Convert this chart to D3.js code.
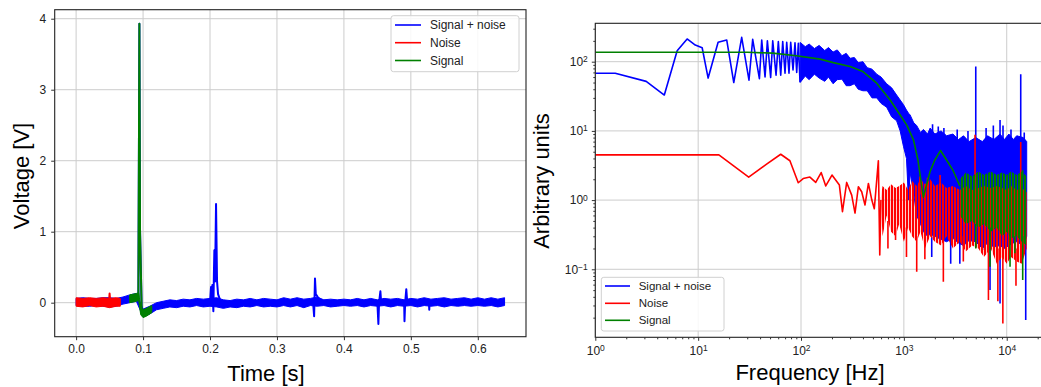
<!DOCTYPE html>
<html>
<head>
<meta charset="utf-8">
<script src="https://cdn.jsdelivr.net/npm/d3@7"></script>
<style>
  body { margin: 0; background: #fff; }
  svg text { font-family: "Liberation Sans", Arial, sans-serif; fill: #222; }
</style>
</head>
<body>
<svg id="chart" width="1041" height="387"></svg>
<script>
// ---- time trace (left) ----
const timeTicks = [0, 0.1, 0.2, 0.3, 0.4, 0.5, 0.6];
const voltTicks = [0, 1, 2, 3, 4];

// signal + noise: noise band envelope
const mixBandT = [0, 0.01, 0.02, 0.03, 0.04, 0.05, 0.06, 0.07, 0.08, 0.09, 0.1, 0.11, 0.12, 0.13, 0.14, 0.15, 0.16, 0.17, 0.18, 0.19,
  0.2, 0.21, 0.22, 0.23, 0.24, 0.25, 0.26, 0.27, 0.28, 0.29, 0.3, 0.31, 0.32, 0.33, 0.34, 0.35, 0.36, 0.37, 0.38, 0.39,
  0.4, 0.41, 0.42, 0.43, 0.44, 0.45, 0.46, 0.47, 0.48, 0.49, 0.5, 0.51, 0.52, 0.53, 0.54, 0.55, 0.56, 0.57, 0.58, 0.59,
  0.6, 0.61, 0.62, 0.63, 0.64];
const mixBandHi = [0.06, 0.07, 0.06, 0.06, 0.07, 0.07, 0.06, 0.08, 0.11, 0.13, -0.09, -0.05, 0.0, 0.02, 0.04, 0.03, 0.05, 0.04, 0.06, 0.05,
  0.06, 0.07, 0.04, 0.03, 0.05, 0.04, 0.06, 0.04, 0.06, 0.05, 0.04, 0.07, 0.05, 0.07, 0.05, 0.06, 0.08, 0.04, 0.05, 0.04,
  0.05, 0.04, 0.06, 0.04, 0.06, 0.04, 0.06, 0.05, 0.06, 0.04, 0.06, 0.05, 0.07, 0.05, 0.06, 0.07, 0.05, 0.06, 0.07, 0.05,
  0.07, 0.05, 0.07, 0.05, 0.07];
const mixBandLo = [-0.04, -0.05, -0.05, -0.04, -0.05, -0.06, -0.05, -0.02, 0.0, 0.02, -0.2, -0.16, -0.1, -0.08, -0.06, -0.07, -0.05, -0.06, -0.04, -0.06,
  -0.05, -0.06, -0.08, -0.06, -0.07, -0.05, -0.06, -0.04, -0.06, -0.05, -0.06, -0.04, -0.06, -0.04, -0.07, -0.04, -0.05, -0.04, -0.06, -0.05,
  -0.04, -0.05, -0.04, -0.06, -0.04, -0.05, -0.04, -0.06, -0.04, -0.05, -0.04, -0.06, -0.04, -0.05, -0.04, -0.06, -0.04, -0.05, -0.04, -0.05,
  -0.04, -0.05, -0.04, -0.06, -0.04];
// signal + noise: centre line with its spikes
const mixLineT = [0, 0.05, 0.08, 0.093, 0.0945, 0.0955, 0.098, 0.1, 0.105, 0.112, 0.12, 0.15, 0.2, 0.2015, 0.2025, 0.2035, 0.205, 0.2058,
  0.2065, 0.2075, 0.209, 0.2105, 0.212, 0.215, 0.22, 0.25, 0.3, 0.354, 0.3555, 0.3568, 0.358, 0.361, 0.365, 0.4, 0.45, 0.4515, 0.4525,
  0.4545, 0.4555, 0.47, 0.49, 0.4905, 0.4915, 0.4932, 0.4945, 0.51, 0.527, 0.5275, 0.528, 0.55, 0.6, 0.64];
const mixLineV = [0.01, 0.01, 0.05, 0.08, 3.93, 1.0, -0.14, -0.17, -0.13, -0.09, -0.05, -0.02, 0.0, 0.22, 0.05, 0.25, -0.12, 0.4,
  0.74, 0.3, 1.39, 0.3, 0.12, 0.04, -0.02, -0.01, 0.0, 0.0, -0.19, 0.34, 0.12, 0.08, 0.03, 0.01, 0.0, -0.3, 0.0,
  0.16, 0.02, 0.01, 0.0, -0.26, 0.0, 0.19, 0.02, 0.01, 0.0, -0.1, 0.0, 0.01, 0.01, 0.01];

// noise segment
const noiseBandT = [0, 0.01, 0.02, 0.03, 0.04, 0.05, 0.06, 0.066];
const noiseBandHi = [0.07, 0.06, 0.07, 0.06, 0.07, 0.06, 0.07, 0.06];
const noiseBandLo = [-0.05, -0.06, -0.04, -0.06, -0.05, -0.07, -0.05, -0.05];
const noiseLineT = [0, 0.049, 0.05, 0.051, 0.066];
const noiseLineV = [0.01, 0.01, 0.13, 0.01, 0.01];

// signal segment
const signalBandT = [0.08, 0.085, 0.09, 0.0935, 0.0965, 0.1, 0.105, 0.113];
const signalBandHi = [0.11, 0.12, 0.13, 0.14, -0.06, -0.1, -0.08, -0.04];
const signalBandLo = [0.0, 0.01, 0.02, 0.03, -0.17, -0.21, -0.19, -0.14];
const signalLineT = [0.08, 0.093, 0.0945, 0.0955, 0.098, 0.1, 0.105, 0.113];
const signalLineV = [0.06, 0.09, 3.93, 1.0, -0.14, -0.17, -0.13, -0.09];

// ---- spectrum (right) ----
const freqTicks = [1, 10, 100, 1000, 10000];
const specTicks = [0.1, 1, 10, 100];

const mixFreqLow = [1, 1.5625, 3.125, 4.6875, 6.25, 7.8125, 9.375, 10.94, 12.5, 15.63, 18.95, 22.2, 26.5, 31.2, 33.9, 39.4, 41.5,
  44.7, 47.1, 50.7, 53.1, 57.2, 60.2, 63.5, 66.4, 69.9, 72.6, 76.4, 79.4, 83.6, 87.4, 90.8, 94.2, 97.8];
const mixSpecLow = [68, 68, 52, 33, 144, 213, 174, 159, 58, 191, 206, 50, 225, 54, 210, 57, 205,
  60, 200, 59, 200, 64, 195, 64, 195, 68, 190, 68, 190, 76, 188, 70, 185, 51];
const mixBandF = [98, 110, 120, 135, 150, 170, 185, 205, 225, 250, 275, 300, 330, 360, 400, 440, 490, 545, 600, 680, 760, 850,
  920, 990, 1060, 1110, 1150, 1250, 1330, 1450, 1550, 1700, 1800, 2000, 2300, 2600, 3000, 3400, 3800, 4300, 5000, 5800, 6500,
  7500, 8600, 9500, 10500, 11600, 12500, 14500, 15640];
const mixSpecHi = [190, 165, 180, 155, 172, 145, 160, 138, 148, 122, 132, 112, 115, 97, 100, 82, 78, 66, 60, 48, 42, 33,
  28, 24, 20, 18, 17, 13, 12, 9.5, 10.5, 9, 11, 9, 10, 8.5, 9, 7.5, 8.5, 7, 8, 7, 8.5,
  7.5, 9, 7.5, 9, 7.5, 8.5, 8, 7];
const mixSpecLo = [50, 62, 55, 66, 58, 52, 60, 48, 55, 56, 45, 45, 48, 40, 38, 38, 30, 30, 25, 22, 16, 14,
  10, 6, 4, 1.0, 2.5, 1.2, 0.6, 0.45, 0.35, 0.3, 0.32, 0.3, 0.27, 0.25, 0.28, 0.24, 0.22, 0.26, 0.25, 0.2, 0.24,
  0.21, 0.22, 0.2, 0.22, 0.24, 0.25, 0.22, 0.3];
const mixSpikeF = [5000, 13680, 7410, 8610, 2160, 1110, 1866, 2852, 3500, 6880, 8610, 15300, 5810,
  1250, 1900, 2450, 3300, 4200, 6300, 9200, 11000, 14800];
const mixSpikeFrom = [7, 7, 7, 7, 8, 5, 0.3, 0.3, 0.3, 0.25, 0.25, 0.3, 0.25,
  10, 8, 8, 7, 7, 7, 7, 7, 7];
const mixSpikeTo = [85, 66, 12, 14.4, 11.6, 1.0, 0.15, 0.12, 0.12, 0.05, 0.032, 0.0185, 0.19,
  13, 12.5, 11, 10.5, 10, 11, 12, 10.5, 9.5];

const noiseFreqLow = [1, 15.9, 31, 46.3, 63.5, 78, 94, 105, 122, 139, 157, 174, 200, 236, 253, 278, 311, 335, 361, 389, 419,
  452, 488, 516, 565, 583, 598];
const noiseSpecLow = [4.5, 4.5, 2.15, 3.3, 4.6, 3.7, 1.78, 2.05, 2.15, 1.8, 2.5, 1.6, 2.3, 1.65, 0.68, 1.8, 1.18, 0.65, 1.56, 1.32, 0.85,
  1.74, 1.0, 0.75, 3.71, 0.161, 1.0];
const noiseBandF = [598, 620, 680, 750, 830, 900, 1000, 1100, 1200, 1330, 1450, 1600, 1800, 2000, 2300, 2600, 3000, 3500, 4000,
  4600, 5300, 6000, 7000, 8000, 9000, 10000, 11000, 12500, 14000, 15640];
const noiseSpecHi = [1.1, 1.6, 1.4, 1.7, 1.5, 1.6, 1.8, 1.4, 1.9, 1.6, 2.0, 1.7, 2.0, 1.6, 1.8, 1.5, 1.6, 1.4, 1.6,
  1.4, 1.5, 1.6, 1.5, 1.6, 1.5, 1.4, 1.6, 1.4, 1.5, 1.3];
const noiseSpecLo = [0.9, 0.3, 0.6, 0.35, 0.3, 0.45, 0.25, 0.4, 0.3, 0.25, 0.35, 0.2, 0.3, 0.25, 0.22, 0.3, 0.2, 0.25, 0.18,
  0.22, 0.2, 0.15, 0.2, 0.12, 0.15, 0.12, 0.15, 0.13, 0.12, 0.2];
const noiseSpikeF = [4920, 13680, 1333, 2420, 6640, 9170, 8200, 830, 1600, 3785, 12300, 700, 1060, 1430, 1700, 2250];
const noiseSpikeFrom = [1.3, 1.3, 0.3, 0.3, 0.25, 0.2, 0.2, 0.4, 0.3, 0.3, 0.2, 0.5, 0.4, 1.2, 1.2, 1.2];
const noiseSpikeTo = [8.8, 6.9, 0.092, 0.066, 0.036, 0.0165, 0.0345, 0.265, 0.14, 0.13, 0.058, 0.2, 0.15, 2.2, 2.1, 2.3];

const signalFreq = [1, 30, 53, 90, 153, 206, 300, 400, 544, 735, 920, 1070, 1240, 1370, 1545, 1650, 1800, 2000, 2270, 2600, 3000, 3500];
const signalSpec = [137, 137, 133, 122, 109, 97, 85, 72, 49, 28, 17, 12, 7.4, 3.8, 1.1, 1.6, 2.6, 3.8, 5.2, 3.8, 2.7, 1.6];
const signalBandF = [3500, 4000, 4600, 5300, 6000, 7000, 8000, 9000, 10000, 11000, 12500, 14000, 15640];
const signalSpecHi = [2.0, 2.5, 2.2, 2.6, 2.3, 2.6, 2.3, 2.5, 2.3, 2.6, 2.3, 2.6, 2.2];
const signalSpecLo = [0.6, 0.45, 0.5, 0.4, 0.45, 0.35, 0.4, 0.3, 0.35, 0.28, 0.3, 0.25, 0.22];
const signalSpikeF = [6880, 10770, 14300, 12000, 5000, 14300];
const signalSpikeFrom = [0.4, 0.35, 0.3, 0.3, 0.45, 2.0];
const signalSpikeTo = [0.109, 0.109, 0.07, 0.17, 0.2, 2.7];

const seriesNames = ["Signal + noise", "Noise", "Signal"];
const seriesColors = ["#0000ff", "#ff0000", "#008000"];

/////// helpers ////////////////////////////////

const svg = d3.select("#chart");
const defs = svg.append("defs");
const zip = (a, b) => a.map((v, i) => [v, b[i]]);
const zip3 = (a, b, c) => a.map((v, i) => [v, b[i], c[i]]);

// vertical hatching so the dense spectrum bands let the layer beneath show through
function hatch(id, color, offset, width) {
  const p = defs.append("pattern").attr("id", id)
    .attr("patternUnits", "userSpaceOnUse").attr("width", 3).attr("height", 10);
  p.append("rect").attr("x", offset).attr("y", 0).attr("width", width).attr("height", 10).attr("fill", color);
}
hatch("hatchRed", seriesColors[1], 0, 2.2);
hatch("hatchGreen", seriesColors[2], 0.8, 2.2);

function clip(id, x0, x1, y0, y1) {
  defs.append("clipPath").attr("id", id)
    .append("rect").attr("x", x0).attr("y", y0).attr("width", x1 - x0).attr("height", y1 - y0);
}

function drawBand(g, data, x, y, fill, stroke) {
  g.append("path")
    .datum(data)
    .attr("fill", fill)
    .attr("stroke", stroke)
    .attr("stroke-width", 1)
    .attr("d", d3.area().x(d => x(d[0])).y0(d => y(d[1])).y1(d => y(d[2])));
}

function drawLine(g, data, x, y, color, width) {
  g.append("path")
    .datum(data)
    .attr("fill", "none")
    .attr("stroke", color)
    .attr("stroke-width", width)
    .attr("stroke-linejoin", "round")
    .attr("d", d3.line().x(d => x(d[0])).y(d => y(d[1])));
}

function drawSpikes(g, data, x, y, color) {
  g.selectAll(null)
    .data(data)
    .enter()
    .append("line")
    .attr("x1", d => x(d[0])).attr("x2", d => x(d[0]))
    .attr("y1", d => y(d[1])).attr("y2", d => y(d[2]))
    .attr("stroke", color)
    .attr("stroke-width", 1.6);
}

function drawLegend(g, left, top, w, h, lineX, textX, rowY, fontSize) {
  g.append("rect")
    .attr("x", left).attr("y", top).attr("width", w).attr("height", h)
    .attr("rx", 2.5)
    .attr("fill", "#fff").attr("fill-opacity", 0.85)
    .attr("stroke", "#d0d0d0");
  seriesNames.forEach(function (name, i) {
    g.append("line")
      .attr("x1", lineX[0]).attr("x2", lineX[1])
      .attr("y1", rowY[i]).attr("y2", rowY[i])
      .attr("stroke", seriesColors[i]).attr("stroke-width", 1.6);
    g.append("text")
      .attr("x", textX).attr("y", rowY[i]).attr("dy", "0.35em")
      .style("font-size", fontSize + "px")
      .text(name);
  });
}

function styleAxis(sel) {
  sel.select(".domain").remove();
  sel.selectAll(".tick line").attr("stroke", "#333");
}

function gridLines(g, ticks, scale, vertical, a0, a1) {
  g.append("g").selectAll("line").data(ticks).enter().append("line")
    .attr(vertical ? "x1" : "y1", d => scale(d)).attr(vertical ? "x2" : "y2", d => scale(d))
    .attr(vertical ? "y1" : "x1", a0).attr(vertical ? "y2" : "x2", a1)
    .attr("stroke", "#cccccc");
}

/////// left: time trace ////////////////////////////////

const L = { x0: 54.7, x1: 526, y0: 9.7, y1: 336.7 };
const xt = d3.scaleLinear().domain([-0.032, 0.672]).range([L.x0, L.x1]);
const yt = d3.scaleLinear().domain([-0.479, 4.127]).range([L.y1, L.y0]);
clip("clipL", L.x0, L.x1, L.y0, L.y1);

const gl = svg.append("g");
gridLines(gl, timeTicks, xt, true, L.y0, L.y1);
gridLines(gl, voltTicks, yt, false, L.x0, L.x1);

const plotL = gl.append("g").attr("clip-path", "url(#clipL)");
drawBand(plotL, zip3(mixBandT, mixBandLo, mixBandHi), xt, yt, seriesColors[0], seriesColors[0]);
drawLine(plotL, zip(mixLineT, mixLineV), xt, yt, seriesColors[0], 2);
drawBand(plotL, zip3(noiseBandT, noiseBandLo, noiseBandHi), xt, yt, seriesColors[1], seriesColors[1]);
drawLine(plotL, zip(noiseLineT, noiseLineV), xt, yt, seriesColors[1], 2);
drawBand(plotL, zip3(signalBandT, signalBandLo, signalBandHi), xt, yt, seriesColors[2], seriesColors[2]);
drawLine(plotL, zip(signalLineT, signalLineV), xt, yt, seriesColors[2], 2);

gl.append("rect")
  .attr("x", L.x0).attr("y", L.y0).attr("width", L.x1 - L.x0).attr("height", L.y1 - L.y0)
  .attr("fill", "none").attr("stroke", "#222").attr("stroke-width", 1.1);

gl.append("g")
  .attr("transform", "translate(0," + L.y1 + ")")
  .call(d3.axisBottom(xt).tickValues(timeTicks).tickFormat(d3.format(".1f")).tickSize(3.5).tickPadding(4.5))
  .call(styleAxis)
  .selectAll("text").style("font-size", "12px").attr("fill", "#222");
gl.append("g")
  .attr("transform", "translate(" + L.x0 + ",0)")
  .call(d3.axisLeft(yt).tickValues(voltTicks).tickFormat(d3.format("d")).tickSize(3.5).tickPadding(5))
  .call(styleAxis)
  .selectAll("text").style("font-size", "12px").attr("fill", "#222");

gl.append("text").attr("x", 266).attr("y", 381).attr("text-anchor", "middle")
  .style("font-size", "22px").style("fill", "#000").text("Time [s]");
gl.append("text").attr("transform", "translate(29,176) rotate(-90)").attr("text-anchor", "middle")
  .style("font-size", "22px").style("fill", "#000").text("Voltage [V]");

drawLegend(gl, 391, 15.7, 128, 56, [395, 421], 430, [25, 42.7, 60.5], 12);

/////// right: spectrum ////////////////////////////////

const R = { x0: 595.3, x1: 1041.7, y0: 23.3, y1: 337.3 };
const xf = d3.scaleLog().domain([1, Math.pow(10, 4.34)]).range([R.x0, R.x1]);
const yf = d3.scaleLog().domain([Math.pow(10, -1.983), Math.pow(10, 2.555)]).range([R.y1, R.y0]);
clip("clipR", R.x0, R.x1, R.y0, R.y1);

const gr = svg.append("g");
gridLines(gr, freqTicks, xf, true, R.y0, R.y1);
gridLines(gr, specTicks, yf, false, R.x0, R.x1);

const plotR = gr.append("g").attr("clip-path", "url(#clipR)");
drawLine(plotR, zip(mixFreqLow, mixSpecLow), xf, yf, seriesColors[0], 1.6);
drawBand(plotR, zip3(mixBandF, mixSpecLo, mixSpecHi), xf, yf, seriesColors[0], seriesColors[0]);
drawSpikes(plotR, zip3(mixSpikeF, mixSpikeFrom, mixSpikeTo), xf, yf, seriesColors[0]);
drawLine(plotR, zip(noiseFreqLow, noiseSpecLow), xf, yf, seriesColors[1], 1.6);
drawBand(plotR, zip3(noiseBandF, noiseSpecLo, noiseSpecHi), xf, yf, "url(#hatchRed)", "none");
drawSpikes(plotR, zip3(noiseSpikeF, noiseSpikeFrom, noiseSpikeTo), xf, yf, seriesColors[1]);
drawLine(plotR, zip(signalFreq, signalSpec), xf, yf, seriesColors[2], 1.6);
drawBand(plotR, zip3(signalBandF, signalSpecLo, signalSpecHi), xf, yf, "url(#hatchGreen)", "none");
drawSpikes(plotR, zip3(signalSpikeF, signalSpikeFrom, signalSpikeTo), xf, yf, seriesColors[2]);

gr.append("rect")
  .attr("x", R.x0).attr("y", R.y0).attr("width", R.x1 - R.x0).attr("height", R.y1 - R.y0)
  .attr("fill", "none").attr("stroke", "#222").attr("stroke-width", 1.1);

function supLabel(sel) {
  sel.each(function (d) {
    const t = d3.select(this);
    const e = Math.round(Math.log10(d));
    t.text(null);
    t.append("tspan").text("10");
    t.append("tspan").attr("dy", "-0.45em").style("font-size", "8.5px").text(e < 0 ? "\u2212" + (-e) : String(e));
  });
}

// minor log ticks
const minorX = [];
const minorY = [];
[1, 10, 100, 1000, 10000].forEach(function (dec) {
  for (let k = 2; k <= 9; k++) minorX.push(dec * k);
});
[0.01, 0.1, 1, 10, 100].forEach(function (dec) {
  for (let k = 2; k <= 9; k++) minorY.push(dec * k);
});

gr.append("g")
  .attr("transform", "translate(0," + R.y1 + ")")
  .call(d3.axisBottom(xf).tickValues(minorX.filter(v => xf(v) <= R.x1)).tickFormat("").tickSize(2))
  .call(styleAxis);
gr.append("g")
  .attr("transform", "translate(" + R.x0 + ",0)")
  .call(d3.axisLeft(yf).tickValues(minorY.filter(v => yf(v) >= R.y0 && yf(v) <= R.y1)).tickFormat("").tickSize(2))
  .call(styleAxis);

gr.append("g")
  .attr("transform", "translate(0," + R.y1 + ")")
  .call(d3.axisBottom(xf).tickValues(freqTicks).tickSize(3.5).tickPadding(6))
  .call(styleAxis)
  .selectAll("text").style("font-size", "12px").attr("fill", "#222").call(supLabel);
gr.append("g")
  .attr("transform", "translate(" + R.x0 + ",0)")
  .call(d3.axisLeft(yf).tickValues(specTicks).tickSize(3.5).tickPadding(4))
  .call(styleAxis)
  .selectAll("text").style("font-size", "12px").attr("fill", "#222").call(supLabel);

gr.append("text").attr("x", 810).attr("y", 380).attr("text-anchor", "middle")
  .style("font-size", "22px").style("fill", "#000").text("Frequency [Hz]");
gr.append("text").attr("transform", "translate(549,181) rotate(-90)").attr("text-anchor", "middle")
  .style("font-size", "22px").style("fill", "#000").text("Arbitrary units");

drawLegend(gr, 601.3, 277.3, 122.7, 53.7, [605, 630], 638.7, [286, 303.3, 320.3], 11.5);
</script>
</body>
</html>
